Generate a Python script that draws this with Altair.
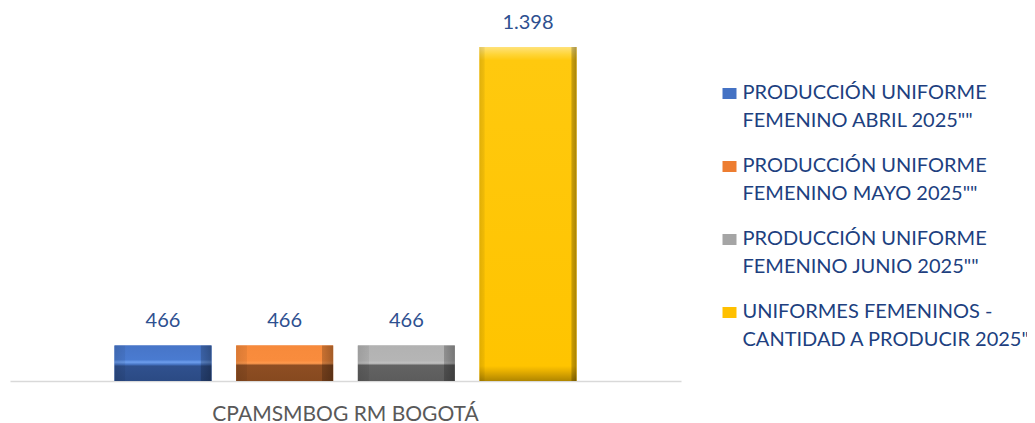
import altair as alt
import pandas as pd

# ---- data ----
categorias = ["CPAMSMBOG RM BOGOTÁ"]
series = [
    'PRODUCCIÓN UNIFORME\nFEMENINO ABRIL 2025""',
    'PRODUCCIÓN UNIFORME\nFEMENINO MAYO 2025""',
    'PRODUCCIÓN UNIFORME\nFEMENINO JUNIO 2025""',
    'UNIFORMES FEMENINOS -\nCANTIDAD A PRODUCIR 2025""',
]
valores = [466, 466, 466, 1398]
colores = ["#4472C4", "#ED7D31", "#A5A5A5", "#FFC000"]

df = pd.DataFrame({
    "categoria": categorias * len(series),
    "serie": series,
    "valor": valores,
})

FONT = "Lato"

# ---- bevel styling (vertical + side shading per series) ----
vert = [
    [(0, "#4775C8"), (0.40, "#4A7BD0"), (0.47, "#6E9FEE"), (0.53, "#4A78C8"),
     (0.58, "#30518E"), (1, "#2B4A84")],
    [(0, "#F78A3B"), (0.42, "#F98C3D"), (0.50, "#FF9A4E"), (0.56, "#8E4E23"),
     (1, "#86491F")],
    [(0, "#B2B2B2"), (0.42, "#B5B5B5"), (0.50, "#C2C2C2"), (0.56, "#636363"),
     (1, "#5C5C5C")],
    [(0, "#FFE27A"), (0.022, "#FFD537"), (0.04, "#FFC90E"), (0.955, "#FFC400"),
     (0.97, "#E8B000"), (1, "#B08600")],
]
side = [0.11, 0.11, 0.11, 0.05]


def grad(stops, horizontal=False):
    return alt.LinearGradient(
        gradient="linear",
        stops=[alt.GradientStop(offset=o, color=c) for o, c in stops],
        x1=0, y1=0,
        x2=1 if horizontal else 0,
        y2=0 if horizontal else 1,
    )


x_enc = alt.X(
    "categoria:N",
    title=None,
    scale=alt.Scale(paddingInner=0, paddingOuter=0.2262),
    axis=alt.Axis(
        title=None, labelAngle=0, labelFont=FONT, labelFontSize=21,
        labelColor="#595959", labelBaseline="alphabetic", labelPadding=39,
        ticks=False, tickSize=0, domainColor="#D9D9D9", domainWidth=1.5,
        grid=False, labelLimit=600,
    ),
)
xo_enc = alt.XOffset(
    "serie:N", sort=series,
    scale=alt.Scale(paddingInner=0.203, paddingOuter=0),
)
y_enc = alt.Y(
    "valor:Q",
    scale=alt.Scale(domain=[355, 1520], clamp=True, zero=False, nice=False),
    axis=None,
)

base = alt.Chart(df)

bars = base.mark_bar().encode(
    x=x_enc, xOffset=xo_enc, y=y_enc,
    color=alt.Color(
        "serie:N", sort=series,
        scale=alt.Scale(domain=series, range=colores),
        legend=alt.Legend(
            title=None, orient="none", legendX=709.5, legendY=81,
            direction="vertical", padding=0,
            symbolType="M-1,-1.571H1V0H-1Z", symbolSize=196,
            symbolStrokeWidth=0, symbolOpacity=1,
            labelFont=FONT, labelFontSize=20, labelColor="#203F7F",
            labelLimit=600, labelBaseline="alphabetic", labelOffset=3,
            rowPadding=25,
            labelExpr="split(datum.label, '\\n')",
        ),
    ),
)

layers = [bars]
for i, s in enumerate(series):
    sw = side[i]
    hstops = [
        (0, "rgba(0,0,0,0.12)"), (sw, "rgba(0,0,0,0.06)"),
        (sw + 0.004, "rgba(0,0,0,0)"), (1 - sw - 0.004, "rgba(0,0,0,0)"),
        (1 - sw, "rgba(0,0,0,0.2)"), (1, "rgba(0,0,0,0.34)"),
    ]
    layers.append(
        base.transform_filter(alt.datum.serie == s)
        .mark_bar(color=grad(vert[i]))
        .encode(x=x_enc, xOffset=xo_enc, y=y_enc)
    )
    layers.append(
        base.transform_filter(alt.datum.serie == s)
        .mark_bar(color=grad(hstops, horizontal=True))
        .encode(x=x_enc, xOffset=xo_enc, y=y_enc)
    )

labels = base.mark_text(
    baseline="alphabetic", dy=-18, font=FONT, fontSize=20, color="#2E5090"
).encode(
    x=x_enc, xOffset=xo_enc, y=y_enc,
    text=alt.Text("valor:Q", format=",d"),
)
layers.append(labels)

chart = (
    alt.layer(*layers)
    .properties(
        width=671, height=373,
        autosize=alt.AutoSizeParams(type="none"),
        padding={"left": 2, "top": 0, "right": 346, "bottom": 42},
    )
    .configure(
        locale={"number": {"decimal": ",", "thousands": ".", "grouping": [3],
                           "currency": ["$", ""]}},
        style={"guide-label": {"lineHeight": 28}},
    )
    .configure_view(stroke=None)
)

chart.save("out.html", embed_options={"renderer": "svg", "actions": False})
